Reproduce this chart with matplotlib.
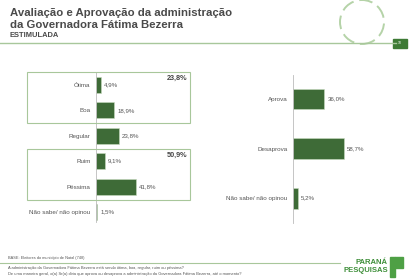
import matplotlib
matplotlib.use("Agg")
import matplotlib.pyplot as plt
from matplotlib.patches import Rectangle, Ellipse

plt.rcParams['font.family'] = ['Liberation Sans', 'DejaVu Sans']

aval_cats = ["Ótima", "Boa", "Regular", "Ruim", "Péssima", "Não sabe/ não opinou"]
aval_vals = [4.9, 18.9, 23.8, 9.1, 41.8, 1.5]
grupo_pos = "23,8%"
grupo_neg = "50,9%"

aprov_cats = ["Aprova", "Desaprova", "Não sabe/ não opinou"]
aprov_vals = [36.0, 58.7, 5.2]

W, H = 420, 280
GREEN = "#3e6b37"
LIGHT = "#a8c79b"
TXT = "#555555"

fig = plt.figure(figsize=(4.2, 2.8), dpi=100)


def px_axes(x0, y0, x1, y1):
    return fig.add_axes([x0 / W, 1 - y1 / H, (x1 - x0) / W, (y1 - y0) / H])


def fmt(v):
    return f"{v:.1f}%".replace(".", ",")


def bar_panel(ax, cats, vals, height, xmax, ylim):
    y = range(len(cats))
    ax.barh(y, vals, height=height, color=GREEN, edgecolor="#c9dcc0", linewidth=0.4)
    for i, v in enumerate(vals):
        ax.text(v + xmax * 0.03, i, fmt(v), va="center", ha="left", fontsize=4.4, color=TXT)
    ax.set_yticks(list(y))
    ax.set_yticklabels(cats, fontsize=4.5, color=TXT)
    ax.tick_params(axis="y", length=0, pad=4)
    ax.set_xticks([])
    ax.set_xlim(0, xmax)
    ax.set_ylim(*ylim)
    for s in ["top", "right", "bottom"]:
        ax.spines[s].set_visible(False)
    ax.spines["left"].set_color("#bbbbbb")
    ax.spines["left"].set_linewidth(0.6)
    ax.patch.set_alpha(0)


# left chart
axl = px_axes(96, 72, 196, 222)
bar_panel(axl, aval_cats, aval_vals, 0.63, 104, (5.39, -0.51))

# group boxes
for (y0, y1, lab) in [(72, 123, grupo_pos), (149, 200, grupo_neg)]:
    fig.add_artist(Rectangle((27 / W, 1 - y1 / H), 163 / W, (y1 - y0) / H,
                             transform=fig.transFigure, fill=False,
                             edgecolor=LIGHT, linewidth=0.8))
    fig.text(187 / W, 1 - (y0 + 6) / H, lab, ha="right", va="center",
             fontsize=5.2, fontweight="bold", color="#444444")

# right chart
axr = px_axes(293, 75, 393, 223)
bar_panel(axr, aprov_cats, aprov_vals, 0.42, 115, (2.5, -0.485))

# header
fig.text(10 / W, 1 - 13 / H, "Avaliação e Aprovação da administração", fontsize=8.2,
         fontweight="bold", color="#4a4a4a", va="center")
fig.text(10 / W, 1 - 25 / H, "da Governadora Fátima Bezerra", fontsize=8.2,
         fontweight="bold", color="#4a4a4a", va="center")
fig.text(10 / W, 1 - 35.5 / H, "ESTIMULADA", fontsize=5.4, fontweight="bold",
         color="#4a4a4a", va="center")
fig.add_artist(plt.Line2D([0, 396 / W], [1 - 43 / H] * 2, color=LIGHT, linewidth=1.0))
fig.add_artist(Ellipse((362 / W, 1 - 22 / H), 44 / W, 44 / H, transform=fig.transFigure,
                       fill=False, edgecolor="#b5d3a8", linewidth=1.4, linestyle=(0, (7, 3))))
fig.add_artist(Rectangle((393 / W, 1 - 48 / H), 14 / W, 9 / H, transform=fig.transFigure,
                         color="#3d7a35"))
fig.text(400 / W, 1 - 43.5 / H, "10", fontsize=2.5, color="white", ha="center", va="center")

# footer
fig.text(8 / W, 1 - 258 / H, "BASE: Eleitores do município de Natal (748)", fontsize=2.8,
         color="#555555", va="center")
fig.add_artist(plt.Line2D([0, 340 / W], [1 - 263 / H] * 2, color=LIGHT, linewidth=0.8))
fig.text(8 / W, 1 - 268 / H,
         "A administração da Governadora Fátima Bezerra está sendo ótima, boa, regular, ruim ou péssima?",
         fontsize=2.9, color="#555555", va="center")
fig.text(8 / W, 1 - 274 / H,
         "De uma maneira geral, o(a) Sr(a) diria que aprova ou desaprova a administração da Governadora Fátima Bezerra, até o momento?",
         fontsize=2.9, color="#555555", va="center")
fig.text(388 / W, 1 - 263 / H, "PARANÁ", fontsize=5.5, fontweight="bold",
         color="#3f8f3a", ha="right", va="center")
fig.text(388 / W, 1 - 271 / H, "PESQUISAS", fontsize=5.5, fontweight="bold",
         color="#3f8f3a", ha="right", va="center")
fig.add_artist(Rectangle((390 / W, 1 - 277 / H), 5 / W, 20 / H, transform=fig.transFigure,
                         color="#4ea045"))
fig.add_artist(Rectangle((395 / W, 1 - 268 / H), 8 / W, 11 / H, transform=fig.transFigure,
                         color="#4ea045"))

fig.savefig("out.png", dpi=100)
